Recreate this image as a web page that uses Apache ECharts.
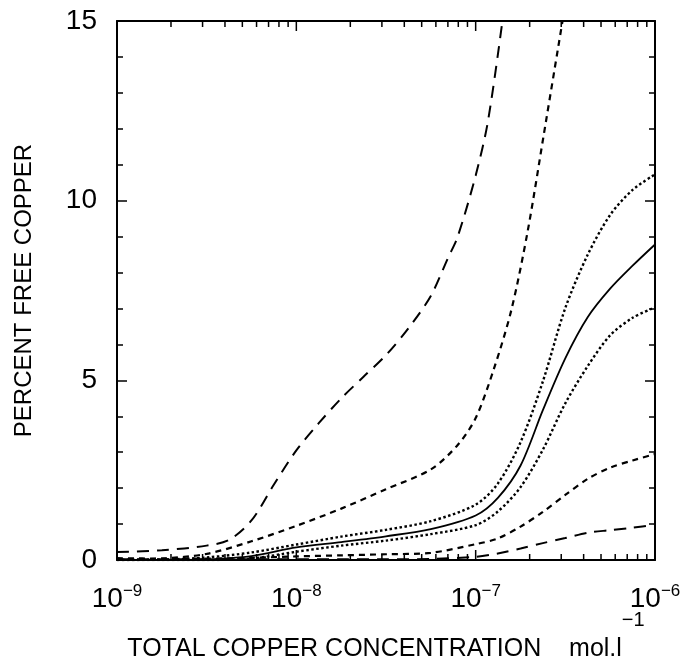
<!DOCTYPE html>
<html>
<head>
<meta charset="utf-8">
<script src="https://cdn.jsdelivr.net/npm/echarts@6/dist/echarts.min.js"></script>
<style>
html,body{margin:0;padding:0;background:#fff;}
#c{width:694px;height:660px;}
</style>
</head>
<body>
<div id="c"></div>
<script>
// total copper concentration (mol/l) used by most curves
const conc = [1e-9, 1.78e-9, 3.16e-9, 5.62e-9, 1e-8, 1.78e-8, 3.16e-8, 5.62e-8, 1e-7, 1.33e-7, 1.78e-7, 2.37e-7, 3.16e-7, 4.22e-7, 5.62e-7, 7.5e-7, 1e-6];

// upper long-dashed curve
const longDashUpperX = [1e-9, 1.78e-9, 3.16e-9, 4.22e-9, 5.62e-9, 7.5e-9, 1e-8, 1.33e-8, 1.78e-8, 2.37e-8, 3.16e-8, 4.22e-8, 5.62e-8, 7.0e-8, 7.94e-8, 1e-7, 1.17e-7, 1.41e-7];
const longDashUpperY = [0.22, 0.27, 0.4, 0.56, 1.1, 2.1, 3.05, 3.8, 4.5, 5.1, 5.7, 6.45, 7.35, 8.4, 9.0, 10.7, 12.2, 15.0];

// upper short-dashed curve
const shortDashUpperX = [1e-9, 1.78e-9, 3.16e-9, 5.62e-9, 1e-8, 1.78e-8, 3.16e-8, 5.62e-8, 7.94e-8, 1e-7, 1.26e-7, 1.58e-7, 1.95e-7, 2.4e-7, 3.05e-7];
const shortDashUpperY = [0.0, 0.04, 0.17, 0.52, 0.95, 1.43, 1.97, 2.52, 3.2, 3.95, 5.3, 6.95, 9.15, 11.85, 15.0];

// curves sampled on conc
const dottedUpper = [0, 0.01, 0.07, 0.21, 0.43, 0.65, 0.84, 1.08, 1.54, 2.13, 3.28, 4.97, 7.01, 8.5, 9.6, 10.3, 10.73];
const solidMid    = [0, 0, 0.02, 0.11, 0.35, 0.5, 0.66, 0.86, 1.24, 1.73, 2.63, 4.17, 5.61, 6.76, 7.55, 8.19, 8.78];
const dottedLower = [0, 0, 0, 0.04, 0.23, 0.4, 0.54, 0.72, 0.97, 1.35, 2.03, 3.07, 4.36, 5.4, 6.25, 6.74, 7.03];
const shortDashLower = [0.05, 0.04, 0.04, 0.06, 0.1, 0.13, 0.16, 0.2, 0.44, 0.6, 0.93, 1.34, 1.81, 2.26, 2.57, 2.77, 2.95];
const longDashLower  = [0.02, 0.02, 0.02, 0.02, 0.02, 0.02, 0.02, 0.03, 0.09, 0.18, 0.32, 0.47, 0.61, 0.76, 0.83, 0.9, 0.98];

// axis tick values
const xTickValues = [1e-8, 1e-7];
const minorMultiples = [2, 3, 4, 5, 6, 7, 8, 9];
const decadeStarts = [1e-9, 1e-8, 1e-7];
const yTickValues = [0, 5, 10, 15];

const FONT = 'Liberation Sans';
const pair = (xs, ys) => xs.map((x, i) => [x, ys[i]]);

const LONG = [12, 8], SHORT = [6, 5], DOT = [2.5, 2.5];
function line(name, data, type, width) {
  return {
    name, type: 'line', data, xAxisIndex: 0, yAxisIndex: 0,
    showSymbol: false, symbol: 'none', smooth: 0.3,
    clip: true, silent: true,
    lineStyle: { color: '#000', width: width, type: type, cap: 'butt' }
  };
}

const expOf = v => Math.round(Math.log10(v));

function logAxis(pos, withLabels) {
  const ax = {
    type: 'log', logBase: 10, min: 1e-9, max: 1e-6, position: pos,
    splitLine: { show: false },
    axisLine: { show: true, onZero: false, lineStyle: { color: '#000', width: 2 } },
    axisTick: { show: false },
    minorTick: { show: false },
    axisLabel: { show: false }
  };
  if (withLabels) {
    ax.axisLabel = {
      show: true, margin: 23, color: '#000',
      formatter: function (v) { return '{b|10}{s|\u2212' + Math.abs(expOf(v)) + '}'; },
      rich: {
        b: { fontFamily: FONT, fontSize: 28, lineHeight: 30, verticalAlign: 'bottom', color: '#000' },
        s: { fontFamily: FONT, fontSize: 17, lineHeight: 17, verticalAlign: 'top', color: '#000' }
      }
    };
    ax.name = '{m|TOTAL COPPER CONCENTRATION    mol.l}{s|\u22121}';
    ax.nameLocation = 'middle';
    ax.nameGap = 50;
    ax.nameMoveOverlap = false;
    ax.nameTextStyle = {
      color: '#000',
      rich: {
        m: { fontFamily: FONT, fontSize: 25, lineHeight: 52, verticalAlign: 'bottom', color: '#000' },
        s: { fontFamily: FONT, fontSize: 20, lineHeight: 20, verticalAlign: 'top', color: '#000' }
      }
    };
  }
  return ax;
}

function valAxis(pos, withLabels) {
  const ax = {
    type: 'value', min: 0, max: 15, interval: 5, position: pos,
    splitLine: { show: false },
    axisLine: { show: true, onZero: false, lineStyle: { color: '#000', width: 2 } },
    axisTick: { show: true, inside: true, length: 10, lineStyle: { color: '#000', width: 1.5 } },
    minorTick: { show: true, splitNumber: 5, length: 6, lineStyle: { color: '#000', width: 1.5 } },
    axisLabel: { show: false }
  };
  if (withLabels) {
    ax.axisLabel = {
      show: true, margin: 20, color: '#000', fontFamily: FONT, fontSize: 28,
      formatter: function (v) { return yTickValues.indexOf(v) >= 0 ? String(v) : ''; }
    };
    ax.name = 'PERCENT FREE COPPER';
    ax.nameLocation = 'middle';
    ax.nameGap = 81;
    ax.nameRotate = 90;
    ax.nameMoveOverlap = false;
    ax.nameTextStyle = { color: '#000', fontFamily: FONT, fontSize: 24 };
  }
  return ax;
}

const option = {
  backgroundColor: '#fff',
  animation: false,
  grid: { left: 117, right: 39, top: 21, bottom: 100, containLabel: false, outerBoundsMode: 'none' },
  xAxis: [logAxis('bottom', true), logAxis('top', false)],
  yAxis: [valAxis('left', true), valAxis('right', false)],
  series: [
    line('long dash upper', pair(longDashUpperX, longDashUpperY), LONG, 2),
    line('short dash upper', pair(shortDashUpperX, shortDashUpperY), SHORT, 2.2),
    line('dotted upper', pair(conc, dottedUpper), DOT, 2.4),
    line('solid', pair(conc, solidMid), 'solid', 1.8),
    line('dotted lower', pair(conc, dottedLower), DOT, 2.4),
    line('short dash lower', pair(conc, shortDashLower), SHORT, 2.2),
    line('long dash lower', pair(conc, longDashLower), LONG, 2)
  ]
};

const chart = echarts.init(document.getElementById('c'), null, { renderer: 'canvas' });
chart.setOption(option);

// Log-axis tick marks (inward, top and bottom), positioned through the axis scale
const yBottom = chart.convertToPixel({ yAxisIndex: 0 }, 0);
const yTop = chart.convertToPixel({ yAxisIndex: 0 }, 15);
const tickEls = [];
function addTick(v, len) {
  const x = chart.convertToPixel({ xAxisIndex: 0 }, v);
  if (!isFinite(x)) return;
  const st = { stroke: '#000', lineWidth: 1.5 };
  tickEls.push({ type: 'line', silent: true, z: 10, shape: { x1: x, y1: yBottom, x2: x, y2: yBottom - len }, style: st });
  tickEls.push({ type: 'line', silent: true, z: 10, shape: { x1: x, y1: yTop, x2: x, y2: yTop + len }, style: st });
}
xTickValues.forEach(v => addTick(v, 10));
decadeStarts.forEach(d => minorMultiples.forEach(m => addTick(d * m, 6)));
chart.setOption({ graphic: { elements: tickEls } });
</script>
</body>
</html>
